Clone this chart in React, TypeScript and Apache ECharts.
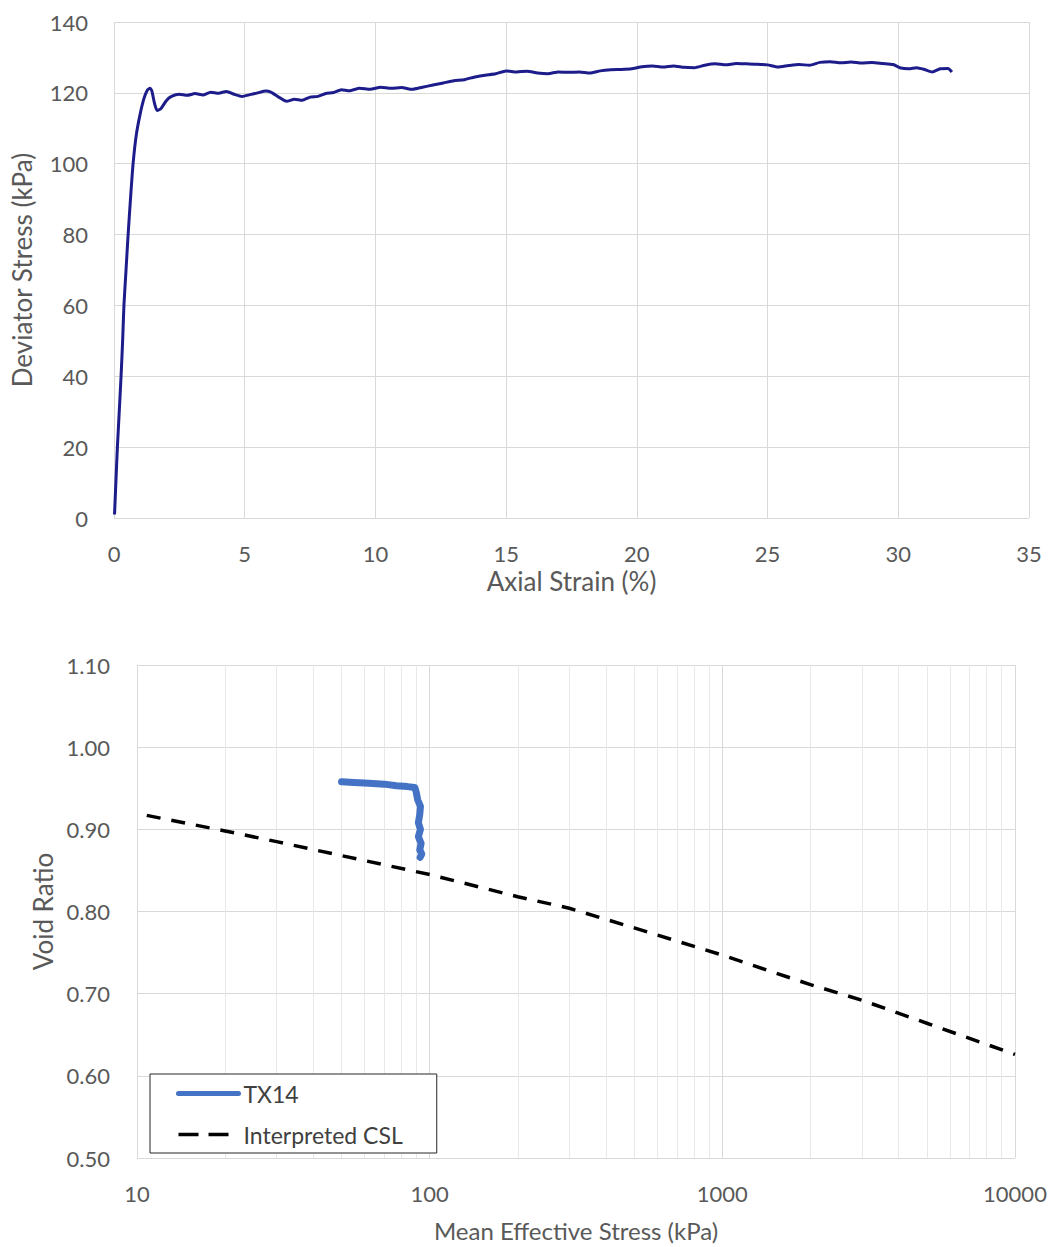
import React, { useEffect, useRef } from "react";
import * as echarts from "echarts";

// ---- Top chart: deviator stress vs axial strain ----
const strainPct = [0.02, 0.06, 0.1, 0.13, 0.2, 0.27, 0.33, 0.38, 0.46, 0.54, 0.63, 0.73, 0.85, 1.0, 1.15, 1.28, 1.38, 1.45, 1.55, 1.65, 1.8, 2.0, 2.2, 2.5, 2.8, 3.1, 3.4, 3.7, 4.0, 4.3, 4.6, 4.9, 5.2, 5.5, 5.8, 6.0, 6.3, 6.6, 6.9, 7.2, 7.5, 7.8, 8.1, 8.4, 8.7, 9.0, 9.4, 9.8, 10.2, 10.6, 11.0, 11.4, 11.8, 12.2, 12.6, 13.0, 13.4, 13.8, 14.2, 14.6, 15.0, 15.4, 15.8, 16.2, 16.6, 17.0, 17.4, 17.8, 18.2, 18.6, 19.0, 19.4, 19.8, 20.2, 20.6, 21.0, 21.4, 21.8, 22.2, 22.6, 23.0, 23.4, 23.8, 24.2, 24.6, 25.0, 25.4, 25.8, 26.2, 26.6, 27.0, 27.4, 27.8, 28.2, 28.6, 29.0, 29.4, 29.8, 30.1, 30.4, 30.7, 31.0, 31.3, 31.6, 31.9, 32.05];
const deviatorKPa = [1, 8, 15, 20, 30, 40, 50, 60, 70, 80, 90, 100, 108, 114, 118.5, 120.8, 121.3, 120.5, 117, 115, 115.6, 117.8, 119, 119.6, 119.3, 119.8, 119.4, 120.2, 119.9, 120.4, 119.6, 119.0, 119.5, 120, 120.5, 120.2, 118.8, 117.6, 118.2, 117.9, 118.8, 119.0, 119.8, 120.1, 120.9, 120.6, 121.3, 121.0, 121.6, 121.3, 121.5, 121.0, 121.6, 122.2, 122.8, 123.4, 123.7, 124.5, 125.0, 125.4, 126.2, 125.9, 126.1, 125.6, 125.4, 125.9, 125.8, 125.9, 125.6, 126.2, 126.5, 126.6, 126.8, 127.4, 127.6, 127.3, 127.6, 127.2, 127.1, 127.8, 128.2, 127.9, 128.3, 128.2, 128.1, 127.9, 127.3, 127.7, 128.0, 127.8, 128.6, 128.8, 128.5, 128.7, 128.4, 128.6, 128.3, 128.0, 127.0, 126.8, 127.1, 126.6, 125.9, 126.8, 126.9, 125.9];

// ---- Bottom chart: void ratio vs mean effective stress ----
const tx14P = [50, 55, 62, 70, 77, 84, 89, 90, 91, 93, 92.5, 91.5, 93, 91.5, 93.5, 92.5, 94, 92.8];
const tx14E = [0.958, 0.957, 0.956, 0.955, 0.953, 0.952, 0.951, 0.945, 0.936, 0.928, 0.918, 0.908, 0.9, 0.891, 0.883, 0.875, 0.87, 0.866];
const cslP = [10.8, 20, 30, 50, 100, 200, 300, 500, 1000, 2000, 3000, 5000, 10000];
const cslE = [0.917, 0.898, 0.885, 0.868, 0.845, 0.818, 0.804, 0.78, 0.747, 0.711, 0.692, 0.664, 0.626];
const minorGridP = [20, 30, 40, 50, 60, 70, 80, 90, 200, 300, 400, 500, 600, 700, 800, 900, 2000, 3000, 4000, 5000, 6000, 7000, 8000, 9000];

const FONT = 'Lato, "Open Sans", sans-serif';
const TXT = "#595959";
const GRID = "#d9d9d9";

export default function App() {
  const ref = useRef<HTMLDivElement>(null);
  useEffect(() => {
    if (!ref.current) return;
    const chart = echarts.init(ref.current, null, { renderer: "svg" });
    const option: any = {
      animation: false,
      backgroundColor: "#ffffff",
      textStyle: { fontFamily: FONT },
      grid: [
        { left: 114, right: 23, top: 22, bottom: 729, containLabel: false },
        { left: 137, right: 37, top: 665, bottom: 89, containLabel: false },
      ],
      legend: {
        data: [
          { name: "TX14", itemStyle: { opacity: 0 }, lineStyle: { color: "#4472c4", width: 5, type: "solid" } },
          { name: "Interpreted CSL", itemStyle: { opacity: 0 }, lineStyle: { color: "#000000", width: 3.5, type: [20, 10] } },
        ],
        orient: "vertical",
        left: 150,
        top: 1074,
        itemWidth: 60,
        itemHeight: 20,
        itemGap: 18,
        padding: [8, 34, 7, 26],
        borderColor: "#262626",
        borderWidth: 1,
        backgroundColor: "#ffffff",
        textStyle: { fontFamily: FONT, fontSize: 23, color: "#404040" },
        z: 20,
      },
      xAxis: [
        {
          gridIndex: 0,
          type: "value",
          min: 0,
          max: 35,
          interval: 5,
          name: "Axial Strain (%)",
          nameLocation: "middle",
          nameGap: 50,
          nameTextStyle: { fontFamily: FONT, fontSize: 26, color: TXT },
          axisLine: { show: false },
          axisTick: { show: false },
          axisLabel: { fontFamily: FONT, fontSize: 22, color: TXT, margin: 24 },
          splitLine: { show: true, lineStyle: { color: GRID, width: 1 } },
        },
        {
          gridIndex: 1,
          type: "log",
          logBase: 10,
          min: 10,
          max: 10000,
          name: "Mean Effective Stress (kPa)",
          nameLocation: "middle",
          nameGap: 60,
          nameTextStyle: { fontFamily: FONT, fontSize: 24, color: TXT },
          axisLine: { show: false },
          axisTick: { show: false },
          axisLabel: {
            fontFamily: FONT,
            fontSize: 22,
            color: TXT,
            margin: 24,
            formatter: (v: number) => String(Math.round(v)),
          },
          splitLine: { show: true, lineStyle: { color: GRID, width: 1 } },
        },
      ],
      yAxis: [
        {
          gridIndex: 0,
          type: "value",
          min: 0,
          max: 140,
          interval: 20,
          name: "Deviator Stress (kPa)",
          nameLocation: "middle",
          nameGap: 79,
          nameTextStyle: { fontFamily: FONT, fontSize: 26, color: TXT },
          axisLine: { show: false },
          axisTick: { show: false },
          axisLabel: { fontFamily: FONT, fontSize: 22, color: TXT, margin: 26 },
          splitLine: { show: true, lineStyle: { color: GRID, width: 1 } },
        },
        {
          gridIndex: 1,
          type: "value",
          min: 0.5,
          max: 1.1,
          interval: 0.1,
          name: "Void Ratio",
          nameLocation: "middle",
          nameGap: 80,
          nameTextStyle: { fontFamily: FONT, fontSize: 26, color: TXT },
          axisLine: { show: false },
          axisTick: { show: false },
          axisLabel: {
            fontFamily: FONT,
            fontSize: 22,
            color: TXT,
            margin: 27,
            formatter: (v: number) => v.toFixed(2),
          },
          splitLine: { show: true, lineStyle: { color: GRID, width: 1 } },
        },
      ],
      series: [
        {
          name: "Deviator",
          type: "line",
          xAxisIndex: 0,
          yAxisIndex: 0,
          data: strainPct.map((x, i) => [x, deviatorKPa[i]]),
          showSymbol: false,
          symbol: "none",
          smooth: 0.2,
          lineStyle: { color: "#1c1c8a", width: 3 },
          z: 10,
        },
        {
          name: "_minor",
          type: "line",
          xAxisIndex: 1,
          yAxisIndex: 1,
          data: [],
          symbol: "none",
          silent: true,
          z: 1,
          markLine: {
            silent: true,
            z: 1,
            symbol: ["none", "none"],
            label: { show: false },
            lineStyle: { color: "#e8e8e8", width: 1, type: "solid" },
            emphasis: { disabled: true },
            data: minorGridP.map((v) => ({ xAxis: v })),
          },
        },
        {
          name: "Interpreted CSL",
          type: "line",
          xAxisIndex: 1,
          yAxisIndex: 1,
          data: cslP.map((x, i) => [x, cslE[i]]),
          showSymbol: false,
          symbol: "none",
          smooth: false,
          lineStyle: { color: "#000000", width: 3.5, type: [14, 11], cap: "butt" },
          itemStyle: { color: "#000000" },
          z: 10,
        },
        {
          name: "TX14",
          type: "line",
          xAxisIndex: 1,
          yAxisIndex: 1,
          data: tx14P.map((x, i) => [x, tx14E[i]]),
          showSymbol: false,
          symbol: "none",
          lineStyle: { color: "#4472c4", width: 7, cap: "round", join: "round" },
          itemStyle: { color: "#4472c4" },
          z: 11,
        },
      ],
    };
    chart.setOption(option);
    return () => chart.dispose();
  }, []);
  return (
    <div
      ref={ref}
      style={{ position: "fixed", left: 0, top: 0, width: 1052, height: 1247, background: "#fff" }}
    />
  );
}
